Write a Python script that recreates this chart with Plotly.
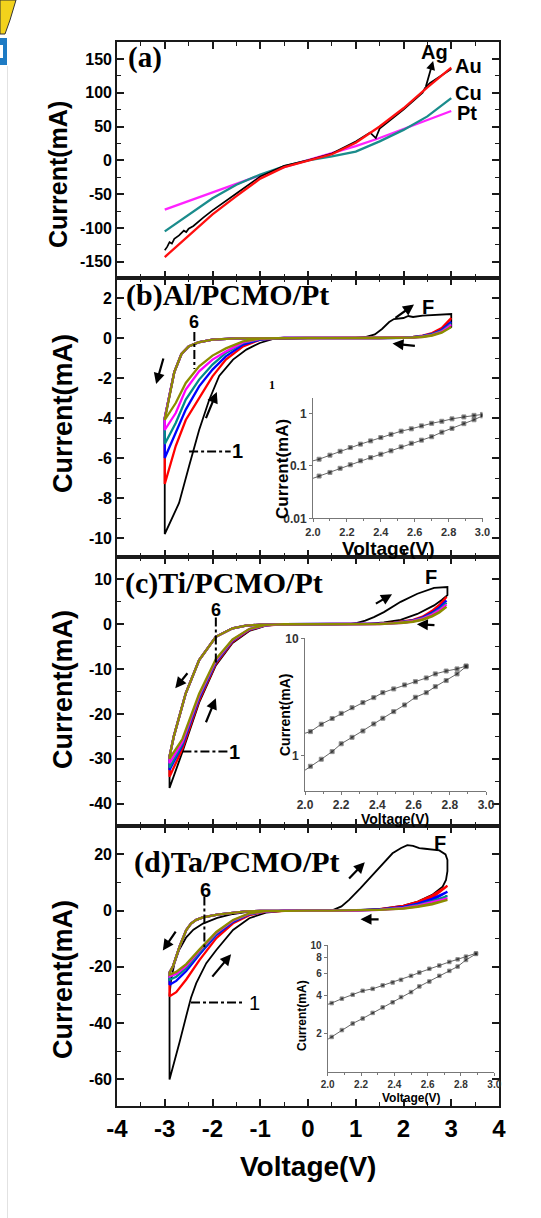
import plotly.graph_objects as go

W, H = 541, 1218


def fx(px):
    return px / W


def fy(py):
    return 1 - py / H


SANS = "Liberation Sans"
SERIF = "Liberation Serif"

# ---------------- (a) I-V of PCMO with different top electrodes ----------------
A_V = [-3.0, -2.5, -2.0, -1.5, -1.0, -0.5, 0.0, 0.5, 1.0, 1.5, 2.0, 2.5, 3.0]
A_AU = [-143, -112, -80, -53, -27, -10, 0, 9, 26, 50, 77, 108, 137]
A_CU = [-105, -80, -56, -36, -21, -9, 0, 6, 13, 28, 45, 65, 92]
A_PT = [-73, -60, -48, -35, -22, -10, 0, 10, 21, 33, 46, 59, 73]
AG_V = [-3.0, -2.95, -2.9, -2.85, -2.8, -2.7, -2.6, -2.55, -2.5, -2.4, -2.2, -2.0, -1.5,
        -1.0, -0.5, 0.0, 0.5, 1.0, 1.3, 1.42, 1.5, 2.0, 2.4, 2.45, 2.55, 2.7, 2.85, 3.0]
AG_I = [-133, -128, -121, -123, -116, -111, -104, -106, -101, -97, -85, -74, -49,
        -24, -8, 0, 10, 28, 41, 33, 47, 75, 100, 107, 114, 121, 129, 135]

# ---------------- (b) Al/PCMO/Pt, cycles 1..6 ----------------
B_LEFT_V = [0.0, -0.5, -1.0, -1.5, -2.0, -2.3, -2.5, -2.65, -2.8, -2.9, -2.97, -3.0]
B_LEFT_I = [0, 0, 0, -0.02, -0.08, -0.22, -0.42, -0.8, -1.7, -2.9, -3.8, -4.0]
B_RET_V = [-3.0, -2.77, -2.56, -2.28, -2.0, -1.72, -1.36, -1.0, -0.5, 0.0]
B_RET_I = {
    2: [-7.3, -5.4, -4.1, -3.0, -1.92, -1.08, -0.42, -0.08, 0, 0],
    3: [-6.0, -4.75, -3.58, -2.42, -1.58, -0.92, -0.33, -0.08, 0, 0],
    4: [-5.3, -4.25, -3.08, -2.08, -1.33, -0.75, -0.25, -0.05, 0, 0],
    5: [-4.6, -3.75, -2.58, -1.67, -1.08, -0.67, -0.22, -0.04, 0, 0],
    6: [-4.1, -3.25, -2.25, -1.42, -0.88, -0.52, -0.17, -0.03, 0, 0],
}
B_POS_V = [0.0, 0.5, 1.0, 1.5, 2.0, 2.2, 2.4, 2.6, 2.8, 3.0, 2.8, 2.6, 2.4, 2.2, 2.0, 1.5, 1.0, 0.5, 0.0]
B_POS_I = {
    2: [0, 0, 0, 0, 0.02, 0.05, 0.12, 0.25, 0.5, 1.0, 0.42, 0.2, 0.1, 0.04, 0.02, 0, 0, 0, 0],
    3: [0, 0, 0, 0, 0.02, 0.04, 0.1, 0.2, 0.4, 0.8, 0.36, 0.17, 0.08, 0.03, 0.01, 0, 0, 0, 0],
    4: [0, 0, 0, 0, 0.02, 0.04, 0.09, 0.18, 0.36, 0.72, 0.33, 0.15, 0.07, 0.03, 0.01, 0, 0, 0, 0],
    5: [0, 0, 0, 0, 0.01, 0.03, 0.08, 0.16, 0.32, 0.65, 0.3, 0.14, 0.06, 0.02, 0.01, 0, 0, 0, 0],
    6: [0, 0, 0, 0, 0.01, 0.03, 0.07, 0.14, 0.28, 0.55, 0.26, 0.12, 0.05, 0.02, 0.01, 0, 0, 0, 0],
}
B1_RET_V = [-3.0, -2.9, -2.7, -2.49, -2.28, -2.07, -1.86, -1.57, -1.29, -1.01, -0.73, 0.0]
B1_RET_I = [-9.8, -9.3, -8.25, -6.4, -4.6, -3.1, -1.9, -1.08, -0.58, -0.25, -0.05, 0]
B1_POS_V = [0.0, 0.5, 1.0, 1.2, 1.4, 1.55, 1.7, 1.8, 1.9, 2.0, 2.1, 2.2, 2.4, 2.6, 2.8, 3.0,
            3.0, 2.8, 2.6, 2.4, 2.2, 2.0, 1.5, 1.0, 0.5, 0.0]
B1_POS_I = [0, 0, 0.01, 0.05, 0.18, 0.45, 0.8, 0.95, 0.98, 1.0, 1.1, 1.05, 1.12, 1.15, 1.2, 1.2,
            0.55, 0.3, 0.15, 0.07, 0.03, 0.01, 0, 0, 0, 0]

# ---------------- (c) Ti/PCMO/Pt ----------------
C_LEFT_V = [0.0, -0.5, -1.0, -1.3, -1.58, -1.93, -2.28, -2.56, -2.81, -2.9]
C_LEFT_I = [0, 0, -0.1, -0.3, -0.9, -2.8, -8.0, -15.4, -25.0, -29.5]
C_RET_V = [-2.9, -2.63, -2.28, -1.93, -1.58, -1.23, -0.88, -0.5, 0.0]
C_RET_I = {
    1: [-36.5, -28.5, -17.5, -9.2, -4.2, -1.5, -0.3, -0.05, 0],
    2: [-34.0, -27.8, -17.0, -8.8, -3.9, -1.3, -0.22, -0.02, 0],
    3: [-32.5, -27.0, -16.5, -8.5, -3.7, -1.2, -0.2, 0, 0],
    4: [-32.0, -26.6, -16.2, -8.3, -3.6, -1.15, -0.18, 0, 0],
    5: [-31.0, -26.2, -15.9, -8.1, -3.5, -1.1, -0.17, 0, 0],
    6: [-30.0, -25.6, -15.5, -7.8, -3.4, -1.05, -0.15, 0, 0],
}
C_POS_V = [0.0, 0.5, 1.0, 1.5, 1.8, 2.0, 2.2, 2.4, 2.6, 2.75, 2.9, 2.75, 2.6, 2.4, 2.2, 2.0, 1.5, 1.0, 0.5, 0.0]
C_POS_I = {
    2: [0, 0, 0.02, 0.15, 0.35, 0.6, 1.0, 1.7, 3.0, 4.3, 6.1, 4.0, 2.7, 1.5, 0.85, 0.45, 0.1, 0.02, 0, 0],
    3: [0, 0, 0.02, 0.13, 0.3, 0.52, 0.88, 1.5, 2.6, 3.7, 5.3, 3.5, 2.35, 1.3, 0.75, 0.4, 0.08, 0.02, 0, 0],
    4: [0, 0, 0.02, 0.12, 0.27, 0.47, 0.8, 1.35, 2.35, 3.35, 4.8, 3.2, 2.1, 1.2, 0.68, 0.36, 0.07, 0.01, 0, 0],
    5: [0, 0, 0.02, 0.11, 0.25, 0.43, 0.73, 1.25, 2.15, 3.1, 4.4, 2.95, 1.95, 1.1, 0.62, 0.33, 0.06, 0.01, 0, 0],
    6: [0, 0, 0.01, 0.1, 0.22, 0.38, 0.65, 1.1, 1.9, 2.75, 3.9, 2.6, 1.75, 0.98, 0.55, 0.3, 0.05, 0.01, 0, 0],
}
C1_POS_V = [0.0, 0.5, 0.9, 1.03, 1.2, 1.38, 1.59, 1.94, 2.29, 2.64, 2.8, 2.92,
            2.92, 2.8, 2.64, 2.29, 1.94, 1.59, 1.24, 0.95, 0.5, 0.0]
C1_POS_I = [0, 0, 0.1, 0.3, 0.8, 1.6, 2.7, 5.0, 6.8, 8.1, 8.3, 8.3,
            6.5, 5.4, 4.2, 2.3, 1.0, 0.4, 0.1, 0.03, 0, 0]

# ---------------- (d) Ta/PCMO/Pt ----------------
D_LEFT_V = [0.0, -0.5, -1.0, -1.3, -1.57, -1.9, -2.2, -2.34, -2.45, -2.55, -2.69, -2.83, -2.9]
D_LEFT_I = [0, 0, -0.1, -0.3, -0.7, -1.4, -2.4, -3.3, -4.6, -6.9, -12.8, -19.9, -22.0]
D_RET_V = [-2.9, -2.76, -2.55, -2.27, -1.92, -1.57, -1.23, -0.88, -0.5, 0.0]
D_RET_I = {
    2: [-30.5, -29.0, -24.5, -17.5, -9.8, -4.5, -1.6, -0.4, -0.05, 0],
    3: [-26.4, -25.0, -21.5, -15.5, -8.7, -4.0, -1.3, -0.3, 0, 0],
    4: [-24.6, -23.5, -20.5, -14.8, -8.2, -3.7, -1.2, -0.3, 0, 0],
    5: [-23.4, -22.5, -19.7, -14.2, -7.9, -3.5, -1.1, -0.25, 0, 0],
    6: [-22.8, -21.8, -19.0, -13.8, -7.6, -3.3, -1.0, -0.2, 0, 0],
}
D_POS_V = [0.0, 0.5, 1.0, 1.5, 2.0, 2.3, 2.6, 2.92, 2.6, 2.3, 2.0, 1.5, 1.0, 0.5, 0.0]
D_POS_I = {
    2: [0, 0, 0.1, 0.5, 1.5, 2.6, 4.6, 8.8, 5.4, 3.1, 1.7, 0.55, 0.1, 0, 0],
    3: [0, 0, 0.08, 0.4, 1.2, 2.1, 3.7, 6.7, 4.2, 2.5, 1.35, 0.45, 0.08, 0, 0],
    4: [0, 0, 0.06, 0.32, 1.0, 1.7, 3.0, 5.2, 3.4, 2.0, 1.1, 0.36, 0.06, 0, 0],
    5: [0, 0, 0.05, 0.28, 0.85, 1.5, 2.6, 4.4, 2.9, 1.75, 0.95, 0.3, 0.05, 0, 0],
    6: [0, 0, 0.05, 0.24, 0.75, 1.3, 2.25, 3.8, 2.5, 1.5, 0.82, 0.26, 0.04, 0, 0],
}
D1_LEFT_V = [0.0, -0.5, -1.0, -1.3, -1.57, -1.9, -2.2, -2.4, -2.55, -2.7, -2.8, -2.87, -2.9, -2.9]
D1_LEFT_I = [0, 0, -0.15, -0.5, -1.2, -2.6, -4.6, -6.8, -9.5, -14.0, -19.0, -25.0, -30.0, -60.1]
D1_RET_V = [-2.9, -2.76, -2.69, -2.55, -2.45, -2.34, -2.13, -1.92, -1.57, -1.23, -0.88, -0.5, 0.0]
D1_RET_I = [-60.1, -51.5, -46.8, -37.5, -31.0, -25.8, -18.7, -14.0, -6.9, -2.7, -0.7, -0.1, 0]
D1_POS_V = [0.0, 0.3, 0.52, 0.7, 0.86, 1.1, 1.4, 1.77, 1.95, 2.08, 2.2, 2.33, 2.45, 2.6, 2.75, 2.88,
            2.92, 2.92, 2.89, 2.82, 2.6, 2.3, 2.0, 1.5, 1.0, 0.5, 0.0]
D1_POS_I = [0, 0, 0.2, 1.5, 3.8, 8.0, 13.5, 20.4, 22.3, 23.3, 23.0, 22.2, 22.0, 21.6, 21.4, 20.0,
            18.0, 14.0, 10.9, 8.5, 5.6, 3.2, 1.8, 0.55, 0.1, 0, 0]

# ---------------- insets: positive-bias branches on log scale ----------------
IB_V = [2.0, 2.036, 2.10, 2.16, 2.22, 2.28, 2.34, 2.40, 2.46, 2.52, 2.58, 2.64, 2.70, 2.76, 2.82, 2.89, 2.95, 3.0]
IB_UP = [0.125, 0.134, 0.16, 0.19, 0.224, 0.26, 0.30, 0.348, 0.40, 0.46, 0.51, 0.58, 0.65, 0.71, 0.79, 0.86, 0.92, 0.96]
IB_LO = [0.058, 0.064, 0.075, 0.09, 0.105, 0.125, 0.144, 0.167, 0.194, 0.23, 0.27, 0.31, 0.36, 0.44, 0.52, 0.64, 0.76, 0.90]
IC_V = [2.0, 2.03, 2.09, 2.15, 2.20, 2.26, 2.32, 2.38, 2.43, 2.49, 2.55, 2.61, 2.67, 2.72, 2.78, 2.84, 2.89]
IC_UP = [1.55, 1.60, 1.85, 2.07, 2.29, 2.56, 2.83, 3.12, 3.44, 3.70, 4.0, 4.27, 4.59, 4.97, 5.26, 5.48, 5.81]
IC_LO = [0.75, 0.81, 0.93, 1.08, 1.26, 1.43, 1.62, 1.86, 2.08, 2.37, 2.70, 3.14, 3.44, 3.87, 4.36, 4.97, 5.73]
ID_V = [2.0, 2.024, 2.085, 2.15, 2.21, 2.27, 2.33, 2.39, 2.44, 2.50, 2.55, 2.61, 2.67, 2.73, 2.78, 2.83, 2.89]
ID_UP = [3.4, 3.48, 3.77, 4.05, 4.35, 4.51, 4.80, 5.06, 5.31, 5.71, 6.06, 6.49, 6.88, 7.35, 7.71, 8.09, 8.6]
ID_LO = [1.8, 1.88, 2.13, 2.40, 2.63, 2.91, 3.22, 3.53, 3.88, 4.25, 4.71, 5.15, 5.71, 6.25, 6.76, 7.62, 8.5]

# ---------------- tick labels ----------------
X_TICKS = [-4, -3, -2, -1, 0, 1, 2, 3, 4]
X_TICK_TEXT = ["-4", "-3", "-2", "-1", "0", "1", "2", "3", "4"]
A_YTICKS = [-150, -100, -50, 0, 50, 100, 150]
A_YTEXT = ["-150", "-100", "-50", "0", "50", "100", "150"]
B_YTICKS = [-10, -8, -6, -4, -2, 0, 2]
B_YTEXT = ["-10", "-8", "-6", "-4", "-2", "0", "2"]
C_YTICKS = [-40, -30, -20, -10, 0, 10]
C_YTEXT = ["-40", "-30", "-20", "-10", "0", "10"]
D_YTICKS = [-60, -40, -20, 0, 20]
D_YTEXT = ["-60", "-40", "-20", "0", "20"]
IN_XTICKS = [2.0, 2.2, 2.4, 2.6, 2.8, 3.0]
IN_XTEXT = ["2.0", "2.2", "2.4", "2.6", "2.8", "3.0"]
IB_YTICKS = [0.01, 0.1, 1]
IB_YTEXT = ["0.01", "0.1", "1"]
IC_YTICKS = [1, 10]
IC_YTEXT = ["1", "10"]
ID_YTICKS = [2, 4, 6, 8, 10]
ID_YTEXT = ["2", "4", "6", "8", "10"]

COLORS = {1: "#000000", 2: "#ff0000", 3: "#0000ff", 4: "#008b8b", 5: "#ff00ff", 6: "#8c8c00"}

fig = go.Figure(layout=dict(template="none"))


def line(x, y, color, xa, ya, width=2.3):
    fig.add_trace(go.Scatter(
        x=x, y=y, mode="lines", xaxis=xa, yaxis=ya, showlegend=False, hoverinfo="skip",
        line=dict(color=color, width=width)))


# (a)
line(A_V, A_PT, "#ff22ff", "x", "y")
line(A_V, A_CU, "#1a8c8c", "x", "y")
line(AG_V, AG_I, "#000000", "x", "y", 1.7)
line(A_V, A_AU, "#ff1010", "x", "y")

# (b)
line(B_LEFT_V + B1_RET_V + B1_POS_V, B_LEFT_I + B1_RET_I + B1_POS_I, COLORS[1], "x2", "y2", 1.8)
for k in range(2, 7):
    line(B_LEFT_V + B_RET_V + B_POS_V, B_LEFT_I + B_RET_I[k] + B_POS_I[k], COLORS[k], "x2", "y2")

# (c)
line(C_LEFT_V + C_RET_V + C1_POS_V, C_LEFT_I + C_RET_I[1] + C1_POS_I, COLORS[1], "x3", "y3", 1.8)
for k in range(2, 7):
    line(C_LEFT_V + C_RET_V + C_POS_V, C_LEFT_I + C_RET_I[k] + C_POS_I[k], COLORS[k], "x3", "y3")

# (d)
line(D1_LEFT_V + D1_RET_V + D1_POS_V, D1_LEFT_I + D1_RET_I + D1_POS_I, COLORS[1], "x4", "y4", 1.8)
for k in range(2, 7):
    line(D_LEFT_V + D_RET_V + D_POS_V, D_LEFT_I + D_RET_I[k] + D_POS_I[k], COLORS[k], "x4", "y4")


def inset_curve(x, y, xa, ya, msize):
    sizes = [0] + [msize] * (len(x) - 1)
    fig.add_trace(go.Scatter(
        x=x, y=y, mode="lines+markers", xaxis=xa, yaxis=ya, showlegend=False, hoverinfo="skip",
        line=dict(color="#666666", width=1),
        marker=dict(symbol="square", size=sizes, color="#111111")))


inset_curve(IB_V, IB_UP, "x5", "y5", 4)
inset_curve(IB_V, IB_LO, "x5", "y5", 4)
inset_curve(IC_V, IC_UP, "x6", "y6", 4)
inset_curve(IC_V, IC_LO, "x6", "y6", 4)
inset_curve(ID_V, ID_UP, "x7", "y7", 3.5)
inset_curve(ID_V, ID_LO, "x7", "y7", 3.5)

# ---------------- axes ----------------
FRAME = "#1a1a1a"
XDOM = [fx(117), fx(499)]


def main_x(anchor, show_labels):
    return dict(domain=XDOM, anchor=anchor, range=[-4, 4], tickmode="array", tickvals=X_TICKS,
                ticktext=X_TICK_TEXT, showticklabels=show_labels, ticks="inside", ticklen=7,
                tickwidth=1.5, tickcolor=FRAME, automargin=False,
                minor=dict(ticks="inside", dtick=0.5, tick0=0, ticklen=4, tickwidth=1.3, tickcolor=FRAME),
                showline=True, linewidth=1.6, linecolor=FRAME, mirror="ticks", showgrid=False,
                zeroline=False, tickfont=dict(family=SANS, size=24, color="black", weight="bold"))


def main_y(anchor, dom, rng, vals, text, minor_dt):
    return dict(domain=dom, anchor=anchor, range=rng, tickmode="array", tickvals=vals, ticktext=text,
                ticks="inside", ticklen=7, tickwidth=1.5, tickcolor=FRAME, automargin=False,
                minor=dict(ticks="inside", dtick=minor_dt, tick0=0, ticklen=4, tickwidth=1.3, tickcolor=FRAME),
                showline=True, linewidth=1.6, linecolor=FRAME, mirror="ticks", showgrid=False,
                zeroline=False, tickfont=dict(family=SANS, size=16, color="black", weight="bold"))


def inset_x(anchor, dom, fsize):
    return dict(domain=dom, anchor=anchor, range=[2.0, 3.0], tickmode="array", tickvals=IN_XTICKS,
                ticktext=IN_XTEXT, ticks="outside", ticklen=3, tickwidth=1, tickcolor="#777",
                automargin=False,
                minor=dict(ticks="outside", dtick=0.1, ticklen=2, tickcolor="#777"),
                showline=True, linewidth=1, linecolor="#777", mirror=False, showgrid=False,
                zeroline=False, tickfont=dict(family=SANS, size=fsize, color="#333", weight="bold"))


def inset_y(anchor, dom, rng, vals, text, fsize):
    return dict(domain=dom, anchor=anchor, type="log", range=rng, tickmode="array", tickvals=vals,
                ticktext=text, ticks="outside", ticklen=3, tickwidth=1, tickcolor="#777",
                automargin=False,
                showline=True, linewidth=1, linecolor="#777", mirror=False, showgrid=False,
                zeroline=False, tickfont=dict(family=SANS, size=fsize, color="#333", weight="bold"))


fig.update_layout(
    width=W, height=H, margin=dict(l=0, r=0, t=0, b=0, autoexpand=False),
    paper_bgcolor="white", plot_bgcolor="rgba(0,0,0,0)", showlegend=False,
    xaxis=main_x("y", False),
    yaxis=main_y("x", [fy(278), fy(42)], [-174, 175], A_YTICKS, A_YTEXT, 25),
    xaxis2=main_x("y2", False),
    yaxis2=main_y("x2", [fy(557), fy(278)], [-10.95, 3.0], B_YTICKS, B_YTEXT, 1),
    xaxis3=main_x("y3", False),
    yaxis3=main_y("x3", [fy(826), fy(557)], [-45, 15], C_YTICKS, C_YTEXT, 5),
    xaxis4=main_x("y4", True),
    yaxis4=main_y("x4", [fy(1106), fy(826)], [-69.5, 30.1], D_YTICKS, D_YTEXT, 10),
    xaxis5=inset_x("y5", [fx(313), fx(482.5)], 11),
    yaxis5=inset_y("x5", [fy(518.3), fy(398.3)], [-2, 0.29], IB_YTICKS, IB_YTEXT, 12),
    xaxis6=inset_x("y6", [fx(305), fx(486)], 12),
    yaxis6=inset_y("x6", [fy(790.7), fy(638.3)], [-0.3, 1.0], IC_YTICKS, IC_YTEXT, 12),
    xaxis7=inset_x("y7", [fx(327.7), fx(494.3)], 10),
    yaxis7=inset_y("x7", [fy(1071.7), fy(945)], [0, 1.0], ID_YTICKS, ID_YTEXT, 10),
)


def text(x, y, s, size, family=SANS, weight="bold", angle=0, xanchor="center", color="black"):
    fig.add_annotation(x=fx(x), y=fy(y), xref="paper", yref="paper", text=s, showarrow=False,
                       textangle=angle, xanchor=xanchor, yanchor="middle",
                       font=dict(family=family, size=size, color=color, weight=weight))


def dtext(x, y, s, xa, ya, size=20, weight="bold"):
    fig.add_annotation(x=x, y=y, xref=xa, yref=ya, text=s, showarrow=False,
                       font=dict(family=SANS, size=size, color="black", weight=weight))


def arrow(xa, ya, tail, head, width=2.2):
    fig.add_annotation(x=head[0], y=head[1], ax=tail[0], ay=tail[1], xref=xa, yref=ya,
                       axref=xa, ayref=ya, text="", showarrow=True, arrowhead=2,
                       arrowsize=1.0, arrowwidth=width, arrowcolor="black")


def dashdot(xa, ya, x0, y0, x1, y1):
    fig.add_shape(type="line", xref=xa, yref=ya, x0=x0, y0=y0, x1=x1, y1=y1,
                  line=dict(color="black", width=2, dash="dashdot"))


# axis titles
text(58, 175, "Current(mA)", 25, angle=-90)
text(63, 414, "Current(mA)", 27, angle=-90)
text(63, 690, "Current(mA)", 27, angle=-90)
text(63, 980, "Current(mA)", 27, angle=-90)
text(308, 1166, "Voltage(V)", 28)

# panel titles
text(126, 57, "(a)", 29, family=SERIF, xanchor="left")
text(124, 295, "(b)Al/PCMO/Pt", 30, family=SERIF, xanchor="left")
text(123, 583, "(c)Ti/PCMO/Pt", 30, family=SERIF, xanchor="left")
text(132, 862, "(d)Ta/PCMO/Pt", 30, family=SERIF, xanchor="left")

# (a) labels
dtext(2.64, 160, "Ag", "x", "y")
dtext(3.37, 139, "Au", "x", "y")
dtext(3.37, 99, "Cu", "x", "y")
dtext(3.33, 70, "Pt", "x", "y")
arrow("x", "y", (2.46, 107), (2.62, 147), 1.8)

# (b) annotations
arrow("x2", "y2", (-3.02, -0.95), (-3.18, -2.3))
arrow("x2", "y2", (-2.15, -4.08), (-1.91, -2.7))
arrow("x2", "y2", (1.80, 0.95), (2.22, 1.67))
arrow("x2", "y2", (2.27, -0.4), (1.77, -0.28))
dtext(2.52, 1.55, "F", "x2", "y2")
dtext(-2.38, 0.78, "6", "x2", "y2", size=18)
dashdot("x2", "y2", -2.38, 0.3, -2.38, -1.55)
dashdot("x2", "y2", -2.49, -5.67, -1.62, -5.67)
dtext(-1.47, -5.67, "1", "x2", "y2")
text(272, 385, "1", 12, family=SERIF)

# (c) annotations
arrow("x3", "y3", (-2.50, -10.6), (-2.78, -14.3))
arrow("x3", "y3", (-2.15, -22.2), (-1.93, -16.5))
arrow("x3", "y3", (1.39, 4.4), (1.76, 6.7))
arrow("x3", "y3", (2.68, -0.2), (2.28, 0.0))
dtext(2.57, 10.5, "F", "x3", "y3")
dtext(-1.93, 3.2, "6", "x3", "y3", size=18)
dashdot("x3", "y3", -1.93, 1.5, -1.93, -8.7)
dashdot("x3", "y3", -2.63, -28.4, -1.68, -28.4)
dtext(-1.53, -28.4, "1", "x3", "y3")

# (d) annotations
arrow("x4", "y4", (-2.75, -6.9), (-3.04, -14.2))
arrow("x4", "y4", (-2.03, -24.0), (-1.61, -15.5))
arrow("x4", "y4", (0.83, 10.9), (1.19, 17.2))
arrow("x4", "y4", (1.51, -3.1), (1.10, -3.1))
dtext(2.76, 23.9, "F", "x4", "y4")
dtext(-2.15, 7.4, "6", "x4", "y4")
dashdot("x4", "y4", -2.17, 5.0, -2.17, -13.0)
dashdot("x4", "y4", -2.45, -32.7, -1.37, -32.7)
dtext(-1.13, -32.7, "1", "x4", "y4", weight="normal")

# inset titles
text(283, 469, "Current(mA)", 17, angle=-90)
text(388, 548, "Voltage(V)", 19)
text(285, 715, "Current(mA)", 14, angle=-90)
text(395, 819, "Voltage(V)", 14)
text(302, 1016, "Current(mA)", 12, angle=-90)
text(411, 1098, "Voltage(V)", 12)

# page-edge details
fig.add_shape(type="line", xref="paper", yref="paper", x0=fx(7.5), x1=fx(7.5), y0=fy(1218), y1=fy(66),
              line=dict(color="#e2e2e2", width=1))
fig.add_shape(type="rect", xref="paper", yref="paper", x0=0, x1=fx(7), y0=fy(65), y1=fy(38),
              fillcolor="#1e7bc4", line=dict(width=0))
fig.add_shape(type="rect", xref="paper", yref="paper", x0=0, x1=fx(3), y0=fy(58), y1=fy(45),
              fillcolor="white", line=dict(width=0))
fig.add_shape(type="path", xref="paper", yref="paper",
              path=f"M 0,{fy(0)} L {fx(16)},{fy(0)} L {fx(10)},{fy(20)} L {fx(5)},{fy(34)} L 0,{fy(34)} Z",
              fillcolor="#f3d21c", line=dict(color="#333", width=1))

fig.write_html("out.html")
